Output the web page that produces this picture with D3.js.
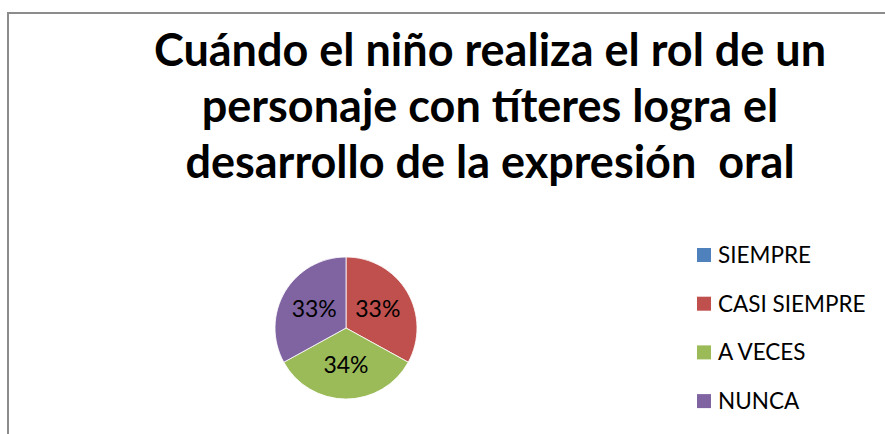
<!DOCTYPE html>
<html>
<head>
<meta charset="utf-8">
<script src="https://cdn.jsdelivr.net/npm/d3@7"></script>
<style>
  body { margin: 0; background: #fff; }
  svg { display: block; font-family: Lato, "Open Sans", sans-serif; }
  text { white-space: pre; }
</style>
</head>
<body>
<svg id="chart" width="885" height="434"></svg>
<script>
const titleLines = ['Cuándo el niño realiza el rol de un', 'personaje con títeres logra el', 'desarrollo de la expresión  oral'];
const categories = ['SIEMPRE', 'CASI SIEMPRE', 'A VECES', 'NUNCA'];
const values = [0, 33, 34, 33];
const colors = ['#4f81bd', '#c0504d', '#9bbb59', '#8064a2'];

const svg = d3.select('#chart');

// chart area frame (runs off the right and bottom edges)
svg.append('rect')
  .attr('x', 8).attr('y', 13)
  .attr('width', 900).attr('height', 440)
  .attr('fill', 'none').attr('stroke', '#8c8c8c').attr('stroke-width', 2);

// title
const title = svg.append('g').attr('font-weight', 'bold').attr('font-size', '45px').attr('fill', '#000');
titleLines.forEach((t, i) => {
  title.append('text')
    .attr('x', 490).attr('y', 66 + i * 56)
    .attr('text-anchor', 'middle')
    .text(t);
});

// pie
const cx = 346, cy = 328, r = 71;
const pie = d3.pie().sort(null).value(d => d.v);
const arc = d3.arc().innerRadius(0).outerRadius(r);
const labelArc = d3.arc().innerRadius(r * 0.52).outerRadius(r * 0.52);
const data = categories.map((c, i) => ({ c, v: values[i], col: colors[i] }));
const arcs = pie(data);

const g = svg.append('g').attr('transform', `translate(${cx},${cy})`);
g.selectAll('path').data(arcs).join('path')
  .attr('d', arc)
  .attr('fill', d => d.data.col)
  .attr('stroke', '#fff').attr('stroke-width', 0.8);

g.selectAll('text').data(arcs.filter(d => d.data.v > 0)).join('text')
  .attr('transform', d => `translate(${labelArc.centroid(d)})`)
  .attr('text-anchor', 'middle')
  .attr('dy', '0.35em')
  .attr('font-size', '23px')
  .attr('fill', '#000')
  .text(d => d.data.v + '%');

// legend
const legend = svg.append('g').attr('transform', 'translate(697,255)');
const item = legend.selectAll('g').data(data).join('g')
  .attr('transform', (d, i) => `translate(0,${i * 48.7})`);
item.append('rect')
  .attr('x', 0).attr('y', -7).attr('width', 14).attr('height', 14)
  .attr('fill', d => d.col);
item.append('text')
  .attr('x', 21).attr('dy', '0.35em')
  .attr('font-size', '22.5px')
  .attr('fill', '#000')
  .text(d => d.c);
</script>
</body>
</html>
